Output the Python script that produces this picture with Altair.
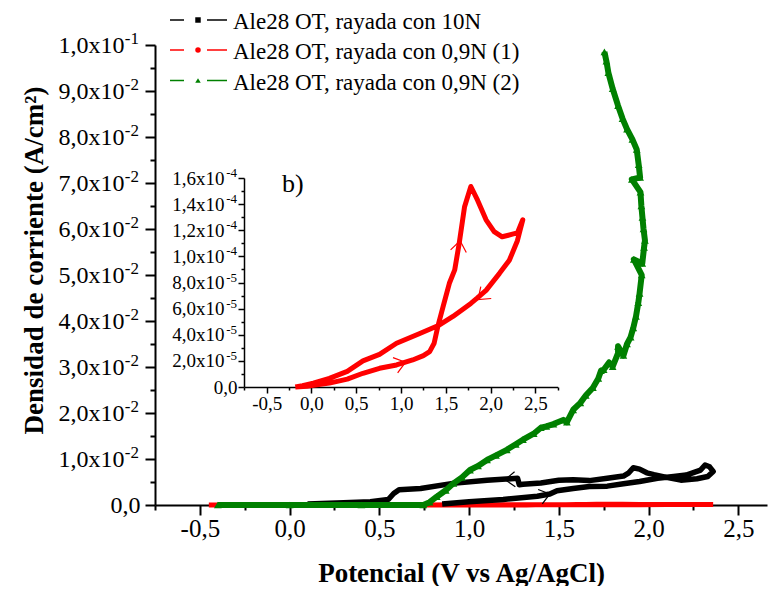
import altair as alt
import pandas as pd

FONT = "Liberation Serif"

# ---------------- data ----------------
# Ale28 OT, rayada con 10N  (black)  E in V, j in A/cm2
e_10n = [0.85, 1.00, 1.19, 1.38, 1.45, 1.49, 1.58, 1.67, 1.77, 1.86, 1.95, 2.05, 2.14, 2.21, 2.29,
         2.315, 2.34, 2.36, 2.33, 2.27, 2.18, 2.10, 2.03, 1.99, 1.95, 1.915, 1.89, 1.86, 1.77, 1.67,
         1.58, 1.50, 1.40, 1.30, 1.28, 1.27, 1.10, 0.91, 0.73, 0.61, 0.58, 0.55, 0.45, 0.30, 0.10]
j_10n = [0.0002, 0.0007, 0.0012, 0.0019, 0.0024, 0.0031, 0.0036, 0.0040, 0.0041, 0.0046, 0.0051,
         0.0058, 0.0062, 0.0065, 0.0076, 0.0087, 0.0083, 0.0073, 0.0062, 0.0057, 0.0054, 0.0060,
         0.0066, 0.0070, 0.0078, 0.0081, 0.0070, 0.0063, 0.0058, 0.0053, 0.0055, 0.0054, 0.0048,
         0.0045, 0.0044, 0.0058, 0.0054, 0.0047, 0.0036, 0.0033, 0.0025, 0.0012, 0.0007, 0.0005, 0.0002]

# Ale28 OT, rayada con 0,9N (1)  (red)  j given in units of 1e-5 A/cm2
e_09n1 = [-0.45, -0.30, -0.18, -0.05, 0.10, 0.20, 0.40, 0.575, 0.76, 0.95, 1.13, 1.25, 1.32, 1.37,
          1.41, 1.47, 1.54, 1.60, 1.65, 1.71, 1.78, 1.855, 1.95, 2.04, 2.13, 2.245, 2.30, 2.36,
          2.33, 2.30, 2.21, 2.10, 1.95, 1.85, 1.78, 1.58, 1.43, 1.21, 0.95, 0.76, 0.575, 0.40,
          0.20, 0.02, -0.10, -0.18]
j_09n1_e5 = [0, 0, 0, 0.05, 0.2, 0.3, 0.6, 1.05, 1.43, 1.69, 2.07, 2.4, 2.71, 3.35, 4.6, 6.15,
             7.94, 8.97, 11.0, 13.8, 15.35, 14.3, 12.8, 11.9, 11.5, 11.7, 11.8, 12.8, 12.0, 11.2,
             9.7, 8.7, 7.4, 6.8, 6.4, 5.4, 4.75, 4.1, 3.35, 2.5, 2.0, 1.2, 0.66, 0.3, 0.1, 0]
j_09n1 = [v * 1e-5 for v in j_09n1_e5]

# Ale28 OT, rayada con 0,9N (2)  (green)
e_09n2 = [-0.40, 0.00, 0.40, 0.745, 0.78, 0.82, 0.87, 0.913, 0.96, 1.005, 1.05, 1.10, 1.15, 1.21,
          1.26, 1.30, 1.36, 1.40, 1.43, 1.47, 1.525, 1.545, 1.58, 1.62, 1.65, 1.69, 1.72, 1.735,
          1.75, 1.78, 1.80, 1.83, 1.83, 1.86, 1.88, 1.90, 1.915, 1.93, 1.943, 1.95, 1.962, 1.918,
          1.965, 1.975, 1.98, 1.972, 1.966, 1.96, 1.955, 1.907, 1.953, 1.945, 1.934, 1.91, 1.88,
          1.855, 1.83, 1.80, 1.776, 1.765, 1.754]
j_09n2 = [0, 0, 0, 0, 0.0006, 0.0018, 0.0032, 0.0047, 0.0060, 0.0076, 0.0085, 0.0098, 0.0108,
          0.0120, 0.0132, 0.0142, 0.0155, 0.0168, 0.0171, 0.0176, 0.0185, 0.0180, 0.0207, 0.0222,
          0.0238, 0.0255, 0.0275, 0.0292, 0.0294, 0.0310, 0.0301, 0.0330, 0.0345, 0.0325, 0.0350,
          0.0365, 0.0385, 0.0410, 0.0440, 0.0460, 0.0500, 0.0534, 0.0525, 0.0560, 0.0575, 0.0600,
          0.0625, 0.0650, 0.0680, 0.0708, 0.0712, 0.0740, 0.0773, 0.0795, 0.0817, 0.0840, 0.0868,
          0.0905, 0.0940, 0.0965, 0.0985]

# scan-direction arrows
arrow_main_e = [1.45, 1.20]
arrow_main_j = [0.0024, 0.0055]
arrow_main_angle = [344, 177]
arrow_inset_e = [1.05, 1.66, 1.86]
arrow_inset_j = [1.9e-5, 11.2e-5, 6.7e-5]
arrow_inset_angle = [343, 279, 139]

legend_labels = ["Ale28 OT, rayada con 10N",
                 "Ale28 OT, rayada con 0,9N (1)",
                 "Ale28 OT, rayada con 0,9N (2)"]
legend_colors = ["#000000", "#ff0000", "#008000"]
legend_shapes = ["square", "circle", "triangle-up"]

# ticks and tick labels (mantissa + exponent)
x_main_ticks = [-0.75, -0.5, -0.25, 0.0, 0.25, 0.5, 0.75, 1.0, 1.25, 1.5, 1.75, 2.0, 2.25, 2.5]
y_main_ticks = [0.0, 0.005, 0.01, 0.015, 0.02, 0.025, 0.03, 0.035, 0.04, 0.045, 0.05, 0.055,
                0.06, 0.065, 0.07, 0.075, 0.08, 0.085, 0.09, 0.095, 0.1]
y_main_mant = ["0,0", "1,0x10", "2,0x10", "3,0x10", "4,0x10", "5,0x10", "6,0x10", "7,0x10",
               "8,0x10", "9,0x10", "1,0x10"]
y_main_exp_at = [0.01, 0.02, 0.03, 0.04, 0.05, 0.06, 0.07, 0.08, 0.09, 0.1]
y_main_exp = ["-2", "-2", "-2", "-2", "-2", "-2", "-2", "-2", "-2", "-1"]

x_inset_ticks = [-0.75, -0.5, -0.25, 0.0, 0.25, 0.5, 0.75, 1.0, 1.25, 1.5, 1.75, 2.0, 2.25,
                 2.5, 2.75]
y_inset_ticks = [0.0, 1e-5, 2e-5, 3e-5, 4e-5, 5e-5, 6e-5, 7e-5, 8e-5, 9e-5, 1e-4, 1.1e-4,
                 1.2e-4, 1.3e-4, 1.4e-4, 1.5e-4, 1.6e-4]
y_inset_mant = ["0,0", "2,0x10", "4,0x10", "6,0x10", "8,0x10", "1,0x10", "1,2x10", "1,4x10",
                "1,6x10"]
y_inset_exp_at = [2e-5, 4e-5, 6e-5, 8e-5, 1e-4, 1.2e-4, 1.4e-4, 1.6e-4]
y_inset_exp = ["-5", "-5", "-5", "-5", "-4", "-4", "-4", "-4"]


def series(E, j):
    return pd.DataFrame({"E": E, "j": j, "i": list(range(len(E)))})


df_10n = series(e_10n, j_10n)
df_09n1 = series(e_09n1, j_09n1)
df_09n2 = series(e_09n2, j_09n2)
df_arr_main = pd.DataFrame({"E": arrow_main_e, "j": arrow_main_j, "a": arrow_main_angle})
df_arr_inset = pd.DataFrame({"E": arrow_inset_e, "j": arrow_inset_j, "a": arrow_inset_angle})
df_exp_main = pd.DataFrame({"j": y_main_exp_at, "t": y_main_exp})
df_exp_inset = pd.DataFrame({"j": y_inset_exp_at, "t": y_inset_exp})

# ---------------- axes ----------------
MAJ_X = "abs(datum.value*2 - round(datum.value*2)) < 0.001"
X_LABEL = (MAJ_X + " ? replace(replace(format(datum.value, '.1f'), '.', ','), '\u2212', '-') : ''")
MAJ_YM = "abs(datum.value*100 - round(datum.value*100)) < 0.001"
YM_ARR = "[" + ",".join("'" + s + "'" for s in y_main_mant) + "]"
YM_LABEL = MAJ_YM + " ? " + YM_ARR + "[round(datum.value*100)] : ''"
MAJ_YI = "abs(datum.value*50000 - round(datum.value*50000)) < 0.001"
YI_ARR = "[" + ",".join("'" + s + "'" for s in y_inset_mant) + "]"
YI_LABEL = MAJ_YI + " ? " + YI_ARR + "[round(datum.value*50000)] : ''"

x_main_axis = alt.Axis(values=x_main_ticks, labelExpr=X_LABEL, title="Potencial (V vs Ag/AgCl)",
                       tickSize={"condition": {"test": MAJ_X, "value": 10}, "value": 5},
                       labelFontSize=25, labelPadding=1, labelOverlap=False, labelFlush=False,
                       titleFontSize=27, titleFontWeight="bold", titleX=306, titleY=76,
                       titleAlign="center", titleBaseline="alphabetic",
                       domainWidth=2, tickWidth=2)
y_main_axis = alt.Axis(values=y_main_ticks, labelExpr=YM_LABEL,
                       title="Densidad de corriente (A/cm²)",
                       tickSize={"condition": {"test": MAJ_YM, "value": 10}, "value": 5},
                       labelPadding={"condition": {"test": "datum.value == 0", "value": 5},
                                     "value": 21},
                       labelFontSize=24, labelOverlap=False,
                       titleFontSize=27, titleFontWeight="bold", titleX=-121, titleY=215,
                       titleAngle=270, titleAlign="center", titleBaseline="middle",
                       domainWidth=2, tickWidth=2)
x_inset_axis = alt.Axis(values=x_inset_ticks, labelExpr=X_LABEL, title=None, orient="bottom",
                        offset=-118,
                        tickSize={"condition": {"test": MAJ_X, "value": 6}, "value": 3},
                        labelFontSize=19, labelPadding=1, labelOverlap=False, labelFlush=False,
                        domainWidth=1.5, tickWidth=1.5)
y_inset_axis = alt.Axis(values=y_inset_ticks, labelExpr=YI_LABEL, title=None, orient="left",
                        offset=-89,
                        tickSize={"condition": {"test": MAJ_YI, "value": 6}, "value": 3},
                        labelPadding={"condition": {"test": "datum.value == 0", "value": 1},
                                      "value": 14},
                        labelFontSize=19, labelOverlap=False,
                        domainWidth=1.5, tickWidth=1.5)

xm = alt.X("E:Q", scale=alt.Scale(domain=[-0.75, 2.66], nice=False, zero=False), axis=x_main_axis)
ym = alt.Y("j:Q", scale=alt.Scale(domain=[0, 0.1], nice=False), axis=y_main_axis)
xi = alt.X("E:Q", scale=alt.Scale(domain=[-0.75, 2.75], range=[89.3, 402.7], nice=False,
                                  zero=False), axis=x_inset_axis)
yi = alt.Y("j:Q", scale=alt.Scale(domain=[0, 1.6e-4], range=[342, 133], nice=False),
           axis=y_inset_axis)

CHEVRON = "M-1,-0.75L0,0L-1,0.75"

# ---------------- main plot ----------------
red_main = alt.Chart(df_09n1).mark_line(color="#ff0000", strokeWidth=5).encode(
    x=xm, y=ym, order="i:Q")
black_main = alt.Chart(df_10n).mark_line(color="#000000", strokeWidth=5.5, strokeJoin="round").encode(
    x=xm, y=ym, order="i:Q")
green_line = alt.Chart(df_09n2).mark_line(color="#008000", strokeWidth=6, strokeJoin="round").encode(
    x=xm, y=ym, order="i:Q")
green_pts = alt.Chart(df_09n2).mark_point(shape="triangle-up", filled=True, color="#008000",
                                           size=60, opacity=1).encode(x=xm, y=ym)
arrows_main = alt.Chart(df_arr_main).mark_point(shape=CHEVRON, filled=False, color="#000000",
                                                 size=400, strokeWidth=1.2, opacity=1).encode(
    x=xm, y=ym, angle=alt.Angle("a:Q", scale=None))
exp_main = alt.Chart(df_exp_main).mark_text(align="right", baseline="middle", font=FONT,
                                            fontSize=17, dy=-6, color="#000000").encode(
    x=alt.value(-16), y=ym, text="t:N")
main = alt.layer(red_main, black_main, green_line, green_pts, arrows_main, exp_main)

# ---------------- inset ----------------
red_inset = alt.Chart(df_09n1).transform_filter("datum.E >= -0.19").mark_line(
    color="#ff0000", strokeWidth=5, strokeJoin="round").encode(x=xi, y=yi, order="i:Q")
arrows_inset = alt.Chart(df_arr_inset).mark_point(shape=CHEVRON, filled=False, color="#ff0000",
                                                   size=450, strokeWidth=1.2, opacity=1).encode(
    x=xi, y=yi, angle=alt.Angle("a:Q", scale=None))
exp_inset = alt.Chart(df_exp_inset).mark_text(align="right", baseline="middle", font=FONT,
                                              fontSize=13, dy=-5, color="#000000").encode(
    x=alt.value(82), y=yi, text="t:N")
inset = alt.layer(red_inset, arrows_inset, exp_inset)

# ---------------- annotations ----------------
annots = []
rows_y = [-25, 5, 35.5]
for lab, col, shp, yy in zip(legend_labels, legend_colors, legend_shapes, rows_y):
    d = pd.DataFrame({"label": [lab]})
    annots.append(alt.Chart(d).mark_rule(color=col, strokeWidth=1.5).encode(
        x=alt.value(15), x2=alt.value(29), y=alt.value(yy)))
    annots.append(alt.Chart(d).mark_rule(color=col, strokeWidth=1.5).encode(
        x=alt.value(52), x2=alt.value(72), y=alt.value(yy)))
    annots.append(alt.Chart(d).mark_point(shape=shp, filled=True, color=col, size=30,
                                          opacity=1).encode(x=alt.value(43), y=alt.value(yy)))
    annots.append(alt.Chart(d).mark_text(align="left", baseline="alphabetic", font=FONT,
                                         fontSize=23, color="#000000").encode(
        x=alt.value(78), y=alt.value(yy + 9), text="label:N"))
annots.append(alt.Chart(pd.DataFrame({"label": ["b)"]})).mark_text(
    align="left", baseline="middle", font=FONT, fontSize=26, color="#000000").encode(
    x=alt.value(127), y=alt.value(139), text="label:N"))

chart = alt.layer(main, inset, *annots).resolve_scale(
    x="independent", y="independent"
).properties(
    width=612, height=460,
    padding={"left": 147, "top": 37, "right": 1, "bottom": 81},
    autosize=alt.AutoSizeParams(type="none"),
    background="white",
).configure_axis(
    labelFont=FONT, titleFont=FONT, labelColor="#000000", titleColor="#000000",
    domainColor="#000000", tickColor="#000000", grid=False,
).configure_view(stroke=None)

chart.save("out.html", embed_options={"renderer": "svg", "actions": False})
